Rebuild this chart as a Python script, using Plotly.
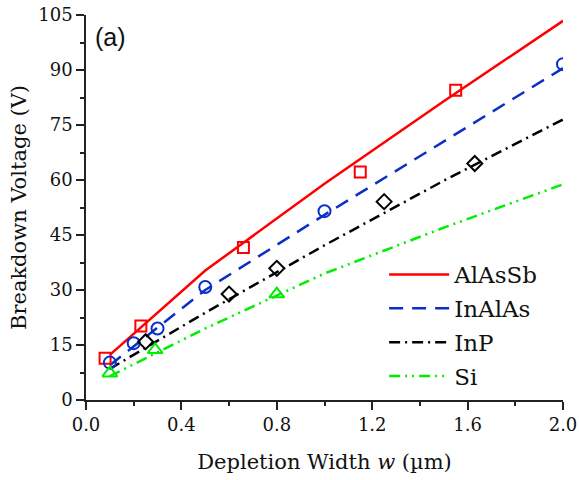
import plotly.graph_objects as go

# Depletion width (um) grid for the calculated curves
w_line = [0.1, 0.5, 1.0, 1.5, 2.0]
alassb_line = [12.3, 35.3, 59.0, 81.5, 103.4]
inalas_line = [9.5, 30.0, 50.5, 70.5, 90.5]
inp_line = [8.5, 23.8, 42.2, 59.8, 76.5]
si_line = [6.5, 19.5, 34.5, 47.0, 58.8]

# Measured breakdown voltages
alassb_w = [0.08, 0.23, 0.66, 1.15, 1.55]
alassb_v = [11.4, 20.2, 41.6, 62.2, 84.5]
inalas_w = [0.1, 0.2, 0.3, 0.5, 1.0, 2.0]
inalas_v = [10.2, 15.5, 19.5, 30.8, 51.5, 91.6]
inp_w = [0.25, 0.6, 0.8, 1.25, 1.63]
inp_v = [15.9, 28.9, 35.9, 54.1, 64.5]
si_w = [0.1, 0.29, 0.8]
si_v = [7.3, 13.7, 28.9]

names = ["AlAsSb", "InAlAs", "InP", "Si"]
colors = ["#FF0000", "#0A2FC8", "#000000", "#00EE00"]
dashes = ["solid", "14px,9px", "11px,5px,2px,5px", "11px,5px,2px,5px,2px,5px"]
symbols = ["square-open", "circle-open", "diamond-open", "triangle-up-open"]
msizes = [11, 12, 11.5, 13]

lines = [alassb_line, inalas_line, inp_line, si_line]
pts = [(alassb_w, alassb_v), (inalas_w, inalas_v), (inp_w, inp_v), (si_w, si_v)]

serif = "DejaVu Serif"

fig = go.Figure()
for i in range(4):
    fig.add_trace(go.Scatter(
        x=w_line, y=lines[i], mode="lines", name=names[i],
        legendgroup=names[i],
        line=dict(color=colors[i], width=2.5, dash=dashes[i]),
    ))
for i in range(4):
    fig.add_trace(go.Scatter(
        x=pts[i][0], y=pts[i][1], mode="markers", showlegend=False,
        marker=dict(symbol=symbols[i], size=msizes[i], color=colors[i],
                    line=dict(color=colors[i], width=2)),
    ))

axis_common = dict(
    showline=True, linecolor="#222222", linewidth=1.5,
    ticks="outside", ticklen=8, tickwidth=1.5, tickcolor="#222222",
    showgrid=False, zeroline=False, mirror=False, automargin=False,
    tickfont=dict(family=serif, size=18, color="#111111"),
)

fig.update_layout(
    width=579, height=480,
    margin=dict(l=86, r=16, t=15, b=80),
    plot_bgcolor="white", paper_bgcolor="white",
    xaxis=dict(
        range=[0, 2.0], dtick=0.4, tick0=0, tickformat=".1f",
        minor=dict(dtick=0.2, ticks="outside", ticklen=4, tickwidth=1.5, tickcolor="#222222"),
        title=dict(text="Depletion Width <i>w</i> (\u00b5m)",
                   font=dict(family=serif, size=21, color="#111111"), standoff=20),
        **axis_common,
    ),
    yaxis=dict(
        range=[0, 105], dtick=15, tick0=0,
        minor=dict(dtick=7.5, ticks="outside", ticklen=4, tickwidth=1.5, tickcolor="#222222"),
        title=dict(text="Breakdown Voltage (V)",
                   font=dict(family=serif, size=21, color="#111111"), standoff=6),
        **axis_common,
    ),
    legend=dict(
        x=0.625, y=0.382, xanchor="left", yanchor="top",
        bgcolor="rgba(0,0,0,0)", borderwidth=0,
        font=dict(family=serif, size=23, color="#111111"),
        itemwidth=60, tracegroupgap=1,
    ),
    annotations=[dict(
        text="(a)", xref="x domain", yref="y domain", x=0.015, y=0.985,
        xanchor="left", yanchor="top", showarrow=False,
        font=dict(family="Liberation Sans", size=25, color="#111111"),
    )],
)

fig.write_html("out.html")
